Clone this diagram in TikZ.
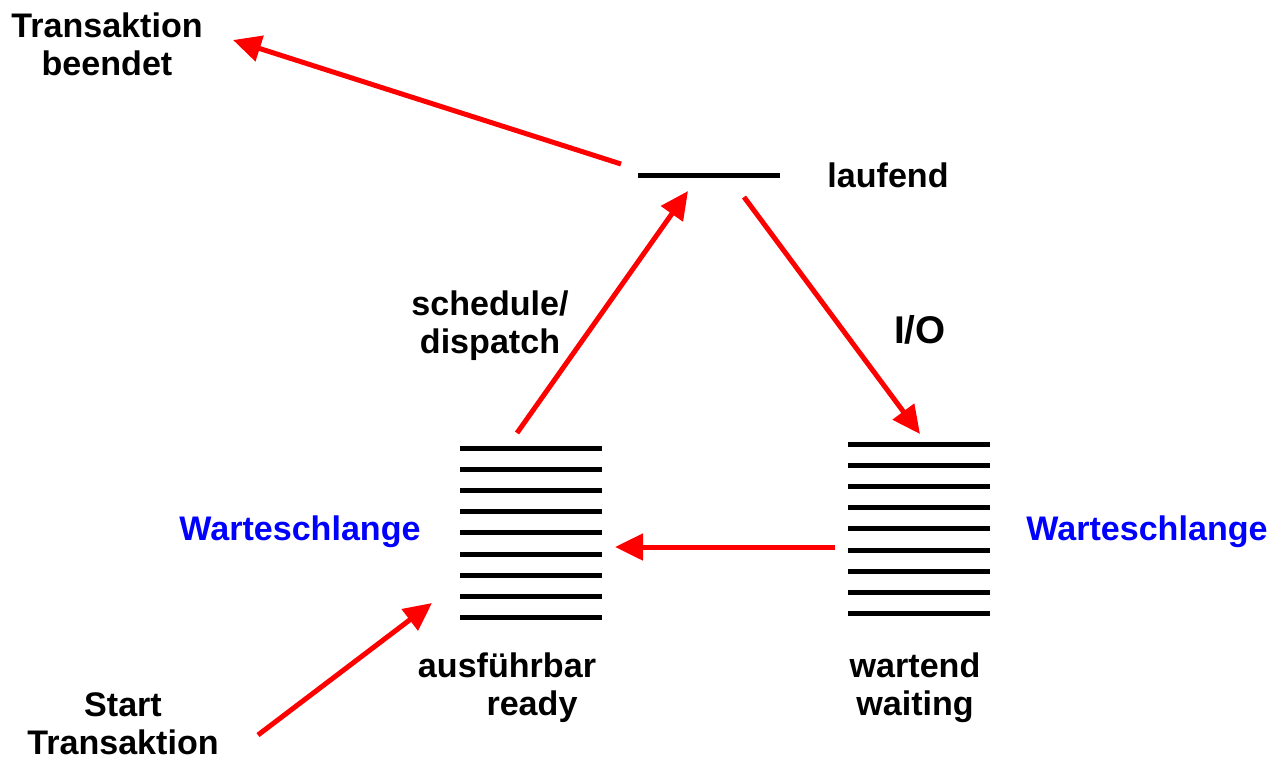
\documentclass[tikz,border=0pt]{standalone}
\usepackage{fontspec}
\setmainfont{Liberation Sans}
\usetikzlibrary{arrows.meta}
\begin{document}
\begin{tikzpicture}[x=0.02cm, y=-0.02cm,
    lbl/.style={font=\bfseries\fontsize{19.4}{21.6}\selectfont, align=center, inner sep=0pt},
    qlbl/.style={lbl, text={rgb,255:red,0;green,0;blue,255}, anchor=base},
    bar/.style={line width=0.1cm},
    trans/.style={draw={rgb,255:red,255;green,0;blue,0}, line width=0.1cm,
        -{Triangle[length=0.56cm, width=0.52cm, fill={rgb,255:red,255;green,0;blue,0}]}}]
    \useasboundingbox (0,0) rectangle (1281,762);
    % state bars
    \draw[bar] (638,175) -- (780,175);
    \foreach \i in {0,...,8} {
        \draw[bar] (460,{448+21.2*\i}) -- (602,{448+21.2*\i});
        \draw[bar] (848,{444+21.2*\i}) -- (990,{444+21.2*\i});
    }
    % labels
    \node[lbl] (done) at (107,44) {Transaktion\\beendet};
    \node[lbl, anchor=base] (running) at (888,187) {laufend};
    \node[lbl] (sched) at (490,326) {schedule/\\dispatch};
    \node[lbl, font=\bfseries\fontsize{22}{26}\selectfont, anchor=base] (io) at (920,343) {I/O};
    \node[qlbl] (readyq) at (300,540) {Warteschlange};
    \node[qlbl] (waitq) at (1147,540) {Warteschlange};
    \node[lbl] (ready) at (507,688) {ausführbar\\\hspace*{1cm}ready};
    \node[lbl] (waiting) at (915,688) {wartend\\waiting};
    \node[lbl] (start) at (123,724) {Start\\Transaktion};
    % arrow ends
    \coordinate (start tail) at (258,735);
    \coordinate (ready in) at (432,603);
    \coordinate (ready out) at (517,433);
    \coordinate (ready back) at (615,547);
    \coordinate (run in) at (688,191);
    \coordinate (run out) at (744,197);
    \coordinate (run end) at (621,164);
    \coordinate (wait in) at (920,434);
    \coordinate (wait out) at (835,547);
    \coordinate (done in) at (233,40);
    % transitions
    \draw[trans] (start tail) -- (ready in);
    \draw[trans] (ready out) -- (run in);
    \draw[trans] (run out) -- (wait in);
    \draw[trans] (wait out) -- (ready back);
    \draw[trans] (run end) -- (done in);
\end{tikzpicture}
\end{document}
